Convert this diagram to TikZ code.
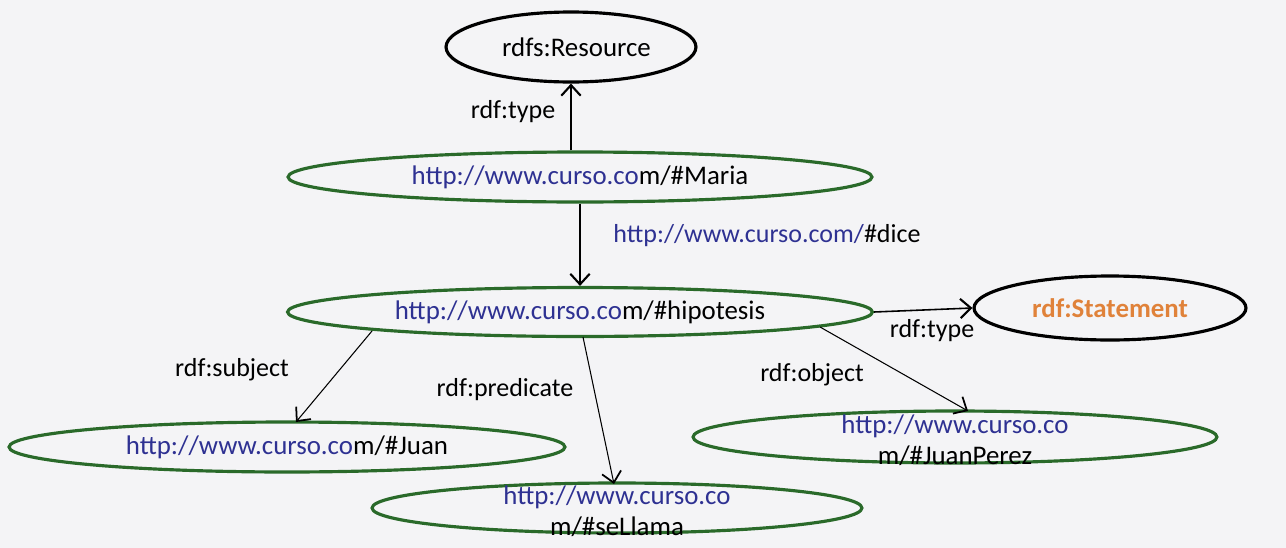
\documentclass[tikz,border=0pt]{standalone}
\usepackage{fontspec}
\setmainfont{Carlito}
\usetikzlibrary{shapes.geometric,arrows.meta}
\definecolor{bg}{HTML}{F4F4F6}
\definecolor{urlblue}{HTML}{2E3192}
\definecolor{ngreen}{HTML}{2A6A2A}
\definecolor{sorange}{HTML}{E0823A}
\newcommand{\ub}[1]{\textcolor{urlblue}{#1}}
\tikzset{
  base/.style={ellipse,inner sep=0pt,font=\fontsize{15.3}{18}\selectfont},
  blackell/.style={base,draw=black,line width=1.8pt},
  greenell/.style={base,draw=ngreen,line width=1.8pt},
  txt/.style={inner sep=0pt,font=\fontsize{15.3}{17.5}\selectfont,align=center},
  lbl/.style={inner sep=0pt,font=\fontsize{14.8}{17}\selectfont},
  edge/.style={line width=0.6pt,-{Straight Barb[length=6pt,width=11pt,line width=1pt]}},
  bedge/.style={line width=0.9pt,-{Straight Barb[length=6pt,width=11pt,line width=1.2pt]}}
}
\begin{document}
\begin{tikzpicture}[x=0.02cm,y=-0.02cm]
\fill[bg] (0,0) rectangle (1286,548);
\useasboundingbox (0,0) rectangle (1286,548);

\node[blackell,minimum width=5cm,minimum height=1.4cm] (res) at (571,47) {\hspace{0.22cm}rdfs:Resource};
\node[greenell,minimum width=11.68cm,minimum height=1.0cm] (maria) at (580,177) {\ub{http://www.curso.co}m/\#Maria};
\node[greenell,minimum width=11.7cm,minimum height=0.98cm] (hip) at (580,312) {\ub{http://www.curso.co}m/\#hipotesis};
\node[blackell,minimum width=5.44cm,minimum height=1.28cm,font=\fontsize{15.3}{18}\selectfont\bfseries,text=sorange] (stmt) at (1110,308) {rdf:Statement};
\node[greenell,minimum width=11.12cm,minimum height=1.0cm] (juan) at (287,447) {\ub{http://www.curso.co}m/\#Juan};
\node[greenell,minimum width=9.8cm,minimum height=1.0cm] (sell) at (617,508) {};
\node[txt] (selltxt) at (617,511) {\ub{http://www.curso.co}\\m/\#seLlama};
\node[greenell,minimum width=10.48cm,minimum height=1.04cm] (jp) at (955,437) {};
\node[txt] (jptxt) at (955,440) {\ub{http://www.curso.co}\\m/\#JuanPerez};

\coordinate (hs1) at (372,331);
\coordinate (hs2) at (583,337);
\coordinate (hs3) at (820,327);
\coordinate (je) at (296,422);
\coordinate (se) at (614,484);
\coordinate (pe) at (968,411);

\draw[bedge] (maria.north -| res.south) -- (res.south);
\draw[bedge] (maria.south) -- (hip.north);
\draw[bedge] (hip.east) -- (stmt.west);
\draw[edge] (hs1) -- (je);
\draw[edge] (hs2) -- (se);
\draw[edge] (hs3) -- (pe);

\node[lbl] (l1) at (513,112) {rdf:type};
\node[lbl] (l2) at (767,236) {\ub{http://www.curso.com/}\#dice};
\node[lbl] (l3) at (932,331) {rdf:type};
\node[lbl] (l4) at (232,370) {rdf:subject};
\node[lbl] (l5) at (505,390) {rdf:predicate};
\node[lbl] (l6) at (812,375) {rdf:object};
\end{tikzpicture}
\end{document}
